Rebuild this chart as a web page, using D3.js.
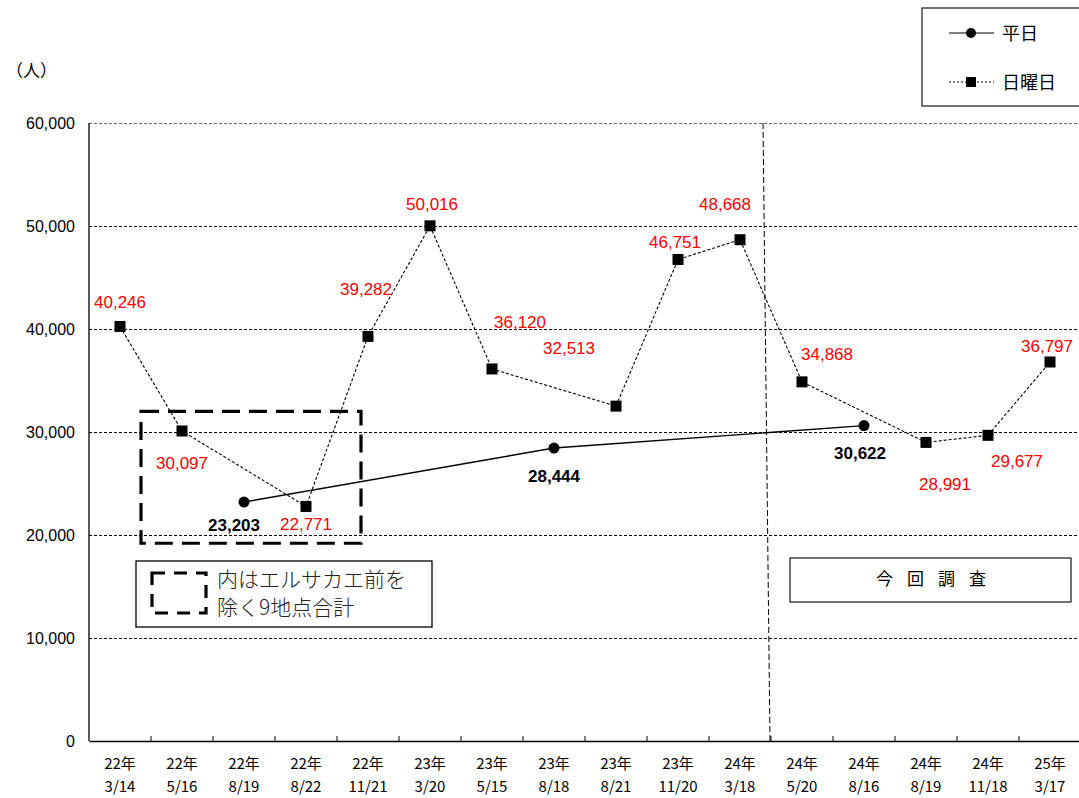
<!DOCTYPE html>
<html>
<head>
<meta charset="utf-8">
<script src="https://cdn.jsdelivr.net/npm/d3@7"></script>
<style>
  body { margin: 0; background: #fff; }
  svg { display: block; }
</style>
</head>
<body>
<div id="chart"></div>
<script>
// survey dates (two-line tick labels)
const years = ["22年", "22年", "22年", "22年", "22年", "23年", "23年", "23年", "23年", "23年", "24年", "24年", "24年", "24年", "24年", "25年"];
const dates = ["3/14", "5/16", "8/19", "8/22", "11/21", "3/20", "5/15", "8/18", "8/21", "11/20", "3/18", "5/20", "8/16", "8/19", "11/18", "3/17"];

// 平日 (weekday) survey points
const weekdayIdx = [2, 7, 12];
const weekdayValues = [23203, 28444, 30622];

// 日曜日 (Sunday) survey points
const sundayIdx = [0, 1, 3, 4, 5, 6, 8, 9, 10, 11, 13, 14, 15];
const sundayValues = [40246, 30097, 22771, 39282, 50016, 36120, 32513, 46751, 48668, 34868, 28991, 29677, 36797];

const yTicks = [0, 10000, 20000, 30000, 40000, 50000, 60000];

// label placement relative to the marker
const sundayLabelOffsets = [[0, -18], [0, 38], [0, 24], [-2, -41], [2, -16], [28, -41], [-47, -52],
  [-3, -11], [-15, -30], [25, -22], [19, 48], [29, 32], [-3, -10]];
const weekdayLabelOffsets = [[-10, 29], [0, 34], [-4, 33]];

const W = 1079, H = 798;
const plot = { left: 89, right: 1081, top: 123, bottom: 741 };
const jp = "'Noto Sans CJK JP', sans-serif";

const svg = d3.select("#chart").append("svg")
    .attr("width", W)
    .attr("height", H)
    .style("font-family", "'Liberation Sans', Arial, sans-serif");

const x = d3.scaleBand()
    .domain(d3.range(dates.length))
    .range([plot.left, plot.right]);
const cx = i => x(i) + x.bandwidth() / 2;

const y = d3.scaleLinear()
    .domain([0, 60000])
    .range([plot.bottom, plot.top]);

// grid lines
svg.append("g")
    .selectAll("line")
    .data(yTicks.filter(d => d > 0))
    .enter().append("line")
    .attr("x1", plot.left)
    .attr("x2", plot.right)
    .attr("y1", d => Math.round(y(d)) + 0.5)
    .attr("y2", d => Math.round(y(d)) + 0.5)
    .attr("stroke", d => d === 60000 ? "#666" : "#000")
    .attr("stroke-width", 1)
    .attr("shape-rendering", "crispEdges")
    .attr("stroke-dasharray", "3,2");

// y tick labels
svg.append("g")
    .selectAll("text")
    .data(yTicks)
    .enter().append("text")
    .attr("x", 75)
    .attr("y", d => y(d) + 6)
    .attr("text-anchor", "end")
    .style("font-size", "16px")
    .text(d => d3.format(",")(d));

svg.append("text")
    .attr("x", 6)
    .attr("y", 77)
    .style("font-family", jp)
    .style("font-size", "17px")
    .text("（人）");

// x axis with ticks between categories
const xAxis = svg.append("g")
    .attr("transform", `translate(0,${plot.bottom})`)
    .call(d3.axisBottom(x).tickSize(0).tickFormat(""));
xAxis.select(".domain").attr("stroke", "#000").attr("stroke-width", 1.3);
svg.append("g")
    .selectAll("line")
    .data(d3.range(1, dates.length))
    .enter().append("line")
    .attr("x1", i => x(i))
    .attr("x2", i => x(i))
    .attr("y1", plot.bottom)
    .attr("y2", plot.bottom - 5)
    .attr("stroke", "#000");

// y axis line
svg.append("line")
    .attr("x1", plot.left).attr("x2", plot.left)
    .attr("y1", y(60000)).attr("y2", y(0))
    .attr("stroke", "#000").attr("stroke-width", 1.3);

const xl = svg.append("g")
    .style("font-family", jp)
    .style("font-size", "15px");
xl.selectAll(".yr")
    .data(years)
    .enter().append("text")
    .attr("x", (d, i) => cx(i))
    .attr("y", 769)
    .attr("text-anchor", "middle")
    .text(d => d);
xl.selectAll(".dt")
    .data(dates)
    .enter().append("text")
    .attr("x", (d, i) => cx(i))
    .attr("y", 792)
    .attr("text-anchor", "middle")
    .text(d => d);

// 今回調査 divider (slightly slanted dashed line)
const divX = x(11);
svg.append("line")
    .attr("x1", divX - 8).attr("y1", y(60000))
    .attr("x2", divX - 1).attr("y2", y(0))
    .attr("stroke", "#000")
    .attr("stroke-dasharray", "6,3");

// series records
const sunday = sundayIdx.map((d, i) => ({ i: d, v: sundayValues[i], off: sundayLabelOffsets[i] }));
const weekday = weekdayIdx.map((d, i) => ({ i: d, v: weekdayValues[i], off: weekdayLabelOffsets[i] }));

const line = d3.line().x(d => cx(d.i)).y(d => y(d.v));

svg.append("path")
    .datum(sunday)
    .attr("d", line)
    .attr("fill", "none")
    .attr("stroke", "#000")
    .attr("stroke-width", 1.1)
    .attr("stroke-dasharray", "3,2");

svg.append("path")
    .datum(weekday)
    .attr("d", line)
    .attr("fill", "none")
    .attr("stroke", "#000")
    .attr("stroke-width", 1.4);

svg.selectAll(".sq")
    .data(sunday)
    .enter().append("rect")
    .attr("x", d => cx(d.i) - 5.5)
    .attr("y", d => y(d.v) - 5.5)
    .attr("width", 11)
    .attr("height", 11)
    .attr("fill", "#000");

svg.selectAll(".dot")
    .data(weekday)
    .enter().append("circle")
    .attr("cx", d => cx(d.i))
    .attr("cy", d => y(d.v))
    .attr("r", 5.5)
    .attr("fill", "#000");

svg.selectAll(".slab")
    .data(sunday)
    .enter().append("text")
    .attr("x", d => cx(d.i) + d.off[0])
    .attr("y", d => y(d.v) + d.off[1])
    .attr("text-anchor", "middle")
    .attr("fill", "#ff0000")
    .style("font-size", "17px")
    .text(d => d3.format(",")(d.v));

svg.selectAll(".wlab")
    .data(weekday)
    .enter().append("text")
    .attr("x", d => cx(d.i) + d.off[0])
    .attr("y", d => y(d.v) + d.off[1])
    .attr("text-anchor", "middle")
    .attr("fill", "#000")
    .style("font-size", "17px")
    .style("font-weight", "bold")
    .text(d => d3.format(",")(d.v));

// dashed box around the 9-point totals
const boxL = cx(1) - 41, boxR = cx(4) - 7;
svg.append("rect")
    .attr("x", boxL)
    .attr("y", y(32000))
    .attr("width", boxR - boxL)
    .attr("height", y(19200) - y(32000))
    .attr("fill", "none")
    .attr("stroke", "#000")
    .attr("stroke-width", 3.2)
    .attr("stroke-dasharray", "18,9");

// note box
const note = svg.append("g");
note.append("rect")
    .attr("x", 136).attr("y", 561)
    .attr("width", 296).attr("height", 66)
    .attr("fill", "#fff").attr("stroke", "#000").attr("stroke-width", 1.3);
note.append("rect")
    .attr("x", 152).attr("y", 573)
    .attr("width", 54).attr("height", 40)
    .attr("fill", "none").attr("stroke", "#000").attr("stroke-width", 3.2)
    .attr("stroke-dasharray", "13,9");
note.selectAll(".nt")
    .data(["内はエルサカエ前を", "除く9地点合計"])
    .enter().append("text")
    .attr("x", 217)
    .attr("y", (d, i) => 587 + i * 28)
    .attr("fill", "#222")
    .style("font-family", jp)
    .style("font-size", "21px")
    .style("font-weight", 300)
    .text(d => d);

// 今回調査 box
const cur = svg.append("g");
cur.append("rect")
    .attr("x", 790).attr("y", 558)
    .attr("width", 281).attr("height", 44)
    .attr("fill", "#fff").attr("stroke", "#000").attr("stroke-width", 1.1);
cur.append("text")
    .attr("x", 938).attr("y", 585)
    .attr("text-anchor", "middle")
    .style("font-family", jp)
    .style("font-size", "17px")
    .style("letter-spacing", "14px")
    .text("今回調査");

// legend
const lg = svg.append("g");
lg.append("rect")
    .attr("x", 922).attr("y", 8)
    .attr("width", 170).attr("height", 98)
    .attr("fill", "#fff").attr("stroke", "#000").attr("stroke-width", 1.1);
lg.append("line")
    .attr("x1", 949).attr("x2", 994).attr("y1", 33).attr("y2", 33)
    .attr("stroke", "#000").attr("stroke-width", 1.2);
lg.append("circle").attr("cx", 971).attr("cy", 33).attr("r", 5).attr("fill", "#000");
lg.append("line")
    .attr("x1", 949).attr("x2", 994).attr("y1", 82).attr("y2", 82)
    .attr("stroke", "#000").attr("stroke-dasharray", "2,2");
lg.append("rect").attr("x", 966).attr("y", 77).attr("width", 10).attr("height", 10).attr("fill", "#000");
lg.selectAll("text")
    .data(["平日", "日曜日"])
    .enter().append("text")
    .attr("x", 1002)
    .attr("y", (d, i) => 40 + i * 49)
    .style("font-family", jp)
    .style("font-size", "18px")
    .text(d => d);
</script>
</body>
</html>
